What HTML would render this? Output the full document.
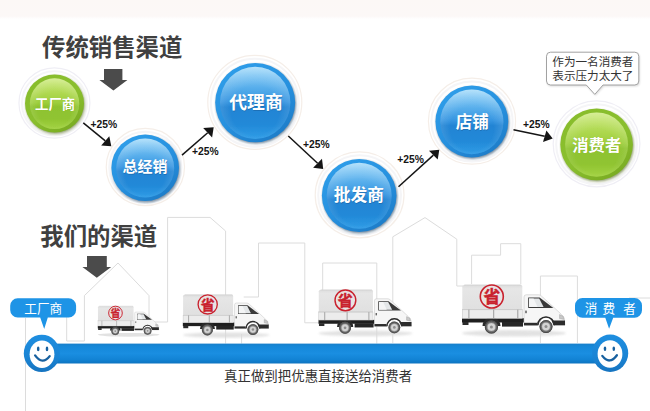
<!DOCTYPE html>
<html lang="zh-CN">
<head>
<meta charset="utf-8">
<title>传统销售渠道 / 我们的渠道</title>
<style>
html,body{margin:0;padding:0;background:#fff;}
body{width:650px;height:411px;overflow:hidden;position:relative;font-family:"Liberation Sans","Noto Sans CJK SC",sans-serif;}
svg{position:absolute;left:0;top:0;display:block;}
text{font-family:"Liberation Sans","Noto Sans CJK SC",sans-serif;}
.t{font-weight:bold;fill:#404040;font-size:23.4px;}
.cw{font-weight:bold;fill:#fff;text-anchor:middle;}
.pc{font-weight:bold;fill:#151515;font-size:10.3px;}
.bl{fill:none;stroke:#dcdcdc;stroke-width:1;}
</style>
</head>
<body>
<svg width="650" height="411" viewBox="0 0 650 411">
<defs>
  <linearGradient id="topband" x1="0" y1="0" x2="0" y2="1">
    <stop offset="0" stop-color="#fcf8f6"/><stop offset="0.85" stop-color="#fcf8f7"/><stop offset="1" stop-color="#ffffff"/>
  </linearGradient>
  <linearGradient id="gBlue" x1="0" y1="0" x2="0" y2="1">
    <stop offset="0" stop-color="#a4dbfa"/><stop offset="0.12" stop-color="#7fc6f4"/><stop offset="0.30" stop-color="#56adeb"/><stop offset="0.48" stop-color="#3695e1"/>
    <stop offset="0.56" stop-color="#2284d4"/><stop offset="0.80" stop-color="#2289d8"/><stop offset="1" stop-color="#2f9ce6"/>
  </linearGradient>
  <linearGradient id="gGreen" x1="0" y1="0" x2="0" y2="1">
    <stop offset="0" stop-color="#cdea7e"/><stop offset="0.12" stop-color="#bfe268"/><stop offset="0.30" stop-color="#aed84f"/><stop offset="0.48" stop-color="#9dce3c"/>
    <stop offset="0.56" stop-color="#8ec32f"/><stop offset="0.80" stop-color="#90c431"/><stop offset="1" stop-color="#a3d343"/>
  </linearGradient>
  <linearGradient id="rimBlue" x1="0.2" y1="0.05" x2="0.8" y2="0.95">
    <stop offset="0" stop-color="#2e9de9"/><stop offset="0.55" stop-color="#2690de"/><stop offset="1" stop-color="#1d7cc8"/>
  </linearGradient>
  <linearGradient id="rimGreen" x1="0.2" y1="0.05" x2="0.8" y2="0.95">
    <stop offset="0" stop-color="#88bd2c"/><stop offset="0.55" stop-color="#8abf2e"/><stop offset="1" stop-color="#79ab22"/>
  </linearGradient>
  <radialGradient id="edgeGlow" cx="0.5" cy="0.6" r="0.62">
    <stop offset="0" stop-color="#fff" stop-opacity="0"/><stop offset="0.55" stop-color="#fff" stop-opacity="0"/><stop offset="1" stop-color="#fff" stop-opacity="0.22"/>
  </radialGradient>
  <linearGradient id="gSm" x1="0" y1="0" x2="0" y2="1">
    <stop offset="0" stop-color="#1e8ee0"/><stop offset="0.6" stop-color="#1a84d4"/><stop offset="1" stop-color="#1674c0"/>
  </linearGradient>
  <filter id="soft" x="-10%" y="-10%" width="120%" height="120%">
    <feGaussianBlur stdDeviation="0.7"/>
  </filter>
  <linearGradient id="gBar" x1="0" y1="0" x2="0" y2="1">
    <stop offset="0" stop-color="#187fca"/><stop offset="0.15" stop-color="#1588d9"/><stop offset="0.5" stop-color="#1a8ee1"/><stop offset="0.8" stop-color="#1283d4"/><stop offset="1" stop-color="#0e74c0"/>
  </linearGradient>
  <linearGradient id="gCargo" x1="0" y1="0" x2="0" y2="1">
    <stop offset="0" stop-color="#dcdcdc"/><stop offset="0.15" stop-color="#e6e6e6"/><stop offset="1" stop-color="#e0e0e0"/>
  </linearGradient>
  <filter id="sh" x="-20%" y="-20%" width="140%" height="140%">
    <feGaussianBlur stdDeviation="1.2"/>
  </filter>
  

  <!-- truck symbol, native size 105 x 50 -->
  <symbol id="truck" viewBox="0 0 105 52" overflow="visible">
    <ellipse cx="53" cy="49.2" rx="52" ry="3.2" fill="#d9d9d9" opacity="0.75" filter="url(#sh)"/>
    <!-- chassis -->
    <rect x="1" y="34.2" width="62" height="4.3" fill="#1f1f1f"/>
    <rect x="1.5" y="38" width="6" height="3" fill="#2b2b2b"/>
    <rect x="41" y="38" width="21" height="4.6" fill="#262626"/>
    <path d="M21.5,42 A9,9 0 0 1 39.5,42 Z" fill="#2a2a2a"/>
    <!-- tarpaulin -->
    <path d="M1.3,25.6 V2.6 Q1.3,1 3.3,1 H60.2 Q61.3,1 61.3,2.6 V25.6 Z" fill="url(#gCargo)"/>
    <path d="M3.3,1 H60.2" stroke="#cfcfcf" stroke-width="0.8"/>
    <!-- bed sides -->
    <rect x="1.3" y="25.4" width="60" height="9" fill="#ececec" stroke="#c2c2c2" stroke-width="0.5"/>
    <path d="M1.3,25.6 H61.3" stroke="#c9c9c9" stroke-width="0.7"/>
    <path d="M7.9,25.6V34.4M32.7,25.6V34.4M56.8,25.6V34.4" stroke="#9c9c9c" stroke-width="1" fill="none"/>
    <!-- cab -->
    <path d="M63,41.2 V13 Q63,10.8 65.2,10.8 H77.6 Q79.3,10.8 80.6,12.2 L93.4,23.9 L100.4,30.4 Q103.2,32.6 103.5,35 L103.9,41.2 H93 A8.2,8.2 0 0 0 76.6,41.2 Z" fill="#f6f6f6" stroke="#c6c6c6" stroke-width="0.6"/>
    <path d="M63,38.8 H76.4 V41.4 H63 Z" fill="#2c2c2c"/>
    <path d="M76,41.2 A9,9 0 0 1 94,41.2 L92.4,41.2 A7.4,7.4 0 0 0 77.6,41.2 Z" fill="#2c2c2c"/>
    <!-- window -->
    <path d="M67.2,13.6 H78.6 L92.4,23.9 H67.2 Z" fill="#3a3a3a"/>
    <path d="M68,14.4 H78.2 L82.6,23.1 H68 Z" fill="#e3e6e8"/>
    <path d="M68,14.4 H72.6 L76.6,23.1 H68 Z" fill="#f4f5f6"/>
    <rect x="64.2" y="26.6" width="1.6" height="2.6" fill="#666"/>
    <!-- bumper & light -->
    <path d="M90.5,36.6 H104 V41.2 H92.8 Z" fill="#2c2c2c"/>
    <path d="M98.6,30.6 L102.2,32.4 L102.8,35.4 L98.6,34.6 Z" fill="#c9c9c9" stroke="#8d8d8d" stroke-width="0.4"/>
    <!-- wheels -->
    <circle cx="30.4" cy="43" r="6.6" fill="#6a6a6a"/>
    <circle cx="30.4" cy="43" r="6.1" fill="none" stroke="#4a4a4a" stroke-width="1"/>
    <circle cx="30.4" cy="43" r="4.1" fill="#d4d4d4" stroke="#9a9a9a" stroke-width="0.5"/>
    <circle cx="30.4" cy="43" r="1.5" fill="#8e8e8e"/>
    <circle cx="85" cy="42.6" r="6.5" fill="#6a6a6a"/>
    <circle cx="85" cy="42.6" r="6" fill="none" stroke="#4a4a4a" stroke-width="1"/>
    <circle cx="85" cy="42.6" r="4.1" fill="#d4d4d4" stroke="#9a9a9a" stroke-width="0.5"/>
    <circle cx="85" cy="42.6" r="1.5" fill="#8e8e8e"/>
    <!-- stamp -->
    <circle cx="30.8" cy="12.5" r="11.5" fill="#e9e3e3" stroke="#c9212d" stroke-width="1.6"/>
    <text x="30.8" y="18.7" text-anchor="middle" font-size="16.8" font-weight="bold" fill="#c9212d" stroke="#c9212d" stroke-width="0.45">省</text>
  </symbol>

  <!-- smiley -->
  <symbol id="smile" viewBox="-19 -19 38 38" overflow="visible">
    <ellipse cx="0" cy="0.2" rx="18" ry="18.7" fill="url(#gSm)"/>
    <ellipse cx="0.2" cy="1" rx="12.4" ry="13.7" fill="#fff"/>
    <ellipse cx="-3.6" cy="-4.3" rx="1.3" ry="2.3" fill="#17609f"/>
    <ellipse cx="5.2" cy="-4.3" rx="1.3" ry="2.3" fill="#17609f"/>
    <path d="M-6.7,2.2 Q0.7,12.4 7.9,2.9" fill="none" stroke="#17609f" stroke-width="2.3" stroke-linecap="round"/>
  </symbol>
</defs>

<!-- top band -->
<rect x="0" y="0" width="650" height="19" fill="url(#topband)"/>

<!-- buildings -->
<g class="bl">
  <path d="M25.5,318 V411"/>
  <path d="M66.7,317 V341 H84.4 V295.6 L118,263 L149,295.6 V322 H167.6"/>
  <path d="M167.6,322 V217.4 H210 L225.6,231 V343.5"/>
  <path d="M243.7,297 H258.5 V243 H304.8 V322.8 H319"/>
  <path d="M241.6,334 V343.5"/>
  <path d="M322.7,290 V263 H376.8 V343.5"/>
  <path d="M392.8,343 V236.8 L425,217.6 L456.8,239.2 V286 H463.7"/>
  <path d="M471.6,284 V255.2 H500.6 V243.7 H520.8 V284"/>
  <path d="M540.4,343 V276 H577.4 V343"/>
  <path d="M629,298 H650"/>
</g>

<!-- titles -->
<text class="t" x="42" y="56">传统销售渠道</text>
<text class="t" x="40.3" y="245.3">我们的渠道</text>

<!-- big down arrows -->
<path d="M104,69 H122.4 V80 H127.4 L113.4,90.5 L99.4,80 H104 Z" fill="#4b4b4b"/>
<path d="M87,256 H106.8 V267 H111.2 L96.8,277.8 L82.4,267 H87 Z" fill="#4b4b4b"/>

<!-- circles -->
<g>
  <!-- 工厂商 -->
  <ellipse cx="54.45" cy="103.0" rx="35.5" ry="35.2" fill="#fff" stroke="#efeef5" stroke-width="1.2"/>
  <ellipse cx="54.45" cy="103.40" rx="32.5" ry="32.2" fill="none" stroke="#f5f5f7" stroke-width="2"/>
  <ellipse cx="55.35" cy="104.70" rx="29.7" ry="29.2" fill="#465f10" opacity="0.55" filter="url(#sh)"/>
  <ellipse cx="54.55" cy="103.5" rx="29.5" ry="29" fill="url(#rimGreen)"/>
  <ellipse cx="54.55" cy="103.70" rx="24.7" ry="25.4" fill="url(#gGreen)" filter="url(#soft)"/>
  <ellipse cx="54.55" cy="103.70" rx="24.7" ry="25.4" fill="url(#edgeGlow)" filter="url(#soft)"/>
  <text class="cw" x="55.60" y="109.40" font-size="13.4" style="fill:#5f8a1a;opacity:.55">工厂商</text>
  <text class="cw" x="55.1" y="108.7" font-size="13.4">工厂商</text>
  <!-- 总经销 -->
  <ellipse cx="145.35" cy="167" rx="39.15" ry="38.6" fill="#fff" stroke="#f5eee8" stroke-width="1.2"/>
  <ellipse cx="145.35" cy="167.40" rx="36.15" ry="35.60" fill="none" stroke="#f5f5f7" stroke-width="2"/>
  <ellipse cx="146.00" cy="169.10" rx="34.00" ry="33.40" fill="#0f3558" opacity="0.55" filter="url(#sh)"/>
  <ellipse cx="145.2" cy="167.8" rx="33.8" ry="33.2" fill="url(#rimBlue)"/>
  <ellipse cx="145.2" cy="168.00" rx="29.00" ry="29.60" fill="url(#gBlue)" filter="url(#soft)"/>
  <ellipse cx="145.2" cy="168.00" rx="29.00" ry="29.60" fill="url(#edgeGlow)" filter="url(#soft)"/>
  <text class="cw" x="145.60" y="173.10" font-size="15" style="fill:#1a5f9e;opacity:.55">总经销</text>
  <text class="cw" x="145.1" y="172.4" font-size="15">总经销</text>
  <!-- 代理商 -->
  <ellipse cx="254.8" cy="102.3" rx="47" ry="47" fill="#fff" stroke="#f5eee8" stroke-width="1.2"/>
  <ellipse cx="254.8" cy="102.70" rx="44.00" ry="44.00" fill="none" stroke="#f5f5f7" stroke-width="2"/>
  <ellipse cx="256.00" cy="103.90" rx="40.20" ry="39.90" fill="#0f3558" opacity="0.55" filter="url(#sh)"/>
  <ellipse cx="255.2" cy="102.6" rx="40.0" ry="39.7" fill="url(#rimBlue)"/>
  <ellipse cx="255.2" cy="102.80" rx="35.20" ry="36.10" fill="url(#gBlue)" filter="url(#soft)"/>
  <ellipse cx="255.2" cy="102.80" rx="35.20" ry="36.10" fill="url(#edgeGlow)" filter="url(#soft)"/>
  <text class="cw" x="256.50" y="110.00" font-size="17.8" style="fill:#1a5f9e;opacity:.55">代理商</text>
  <text class="cw" x="256" y="109.3" font-size="17.8">代理商</text>
  <!-- 批发商 -->
  <ellipse cx="359.6" cy="194.9" rx="44.4" ry="43" fill="#fff" stroke="#f5eee8" stroke-width="1.2"/>
  <ellipse cx="359.6" cy="195.30" rx="41.40" ry="40.00" fill="none" stroke="#f5f5f7" stroke-width="2"/>
  <ellipse cx="360.00" cy="196.80" rx="37.50" ry="36.80" fill="#0f3558" opacity="0.55" filter="url(#sh)"/>
  <ellipse cx="359.2" cy="195.5" rx="37.3" ry="36.6" fill="url(#rimBlue)"/>
  <ellipse cx="359.2" cy="195.70" rx="32.50" ry="33.00" fill="url(#gBlue)" filter="url(#soft)"/>
  <ellipse cx="359.2" cy="195.70" rx="32.50" ry="33.00" fill="url(#edgeGlow)" filter="url(#soft)"/>
  <text class="cw" x="359.30" y="201.60" font-size="16.7" style="fill:#1a5f9e;opacity:.55">批发商</text>
  <text class="cw" x="358.8" y="200.9" font-size="16.7">批发商</text>
  <!-- 店铺 -->
  <ellipse cx="472" cy="121.2" rx="43.6" ry="43" fill="#fff" stroke="#f5eee8" stroke-width="1.2"/>
  <ellipse cx="472" cy="121.60" rx="40.60" ry="40.00" fill="none" stroke="#f5f5f7" stroke-width="2"/>
  <ellipse cx="472.65" cy="122.90" rx="36.60" ry="36.20" fill="#0f3558" opacity="0.55" filter="url(#sh)"/>
  <ellipse cx="471.85" cy="121.6" rx="36.4" ry="36.0" fill="url(#rimBlue)"/>
  <ellipse cx="471.85" cy="121.80" rx="31.60" ry="32.40" fill="url(#gBlue)" filter="url(#soft)"/>
  <ellipse cx="471.85" cy="121.80" rx="31.60" ry="32.40" fill="url(#edgeGlow)" filter="url(#soft)"/>
  <text class="cw" x="472.80" y="128.60" font-size="16.5" style="fill:#1a5f9e;opacity:.55">店铺</text>
  <text class="cw" x="472.3" y="127.9" font-size="16.5">店铺</text>
  <!-- 消费者 -->
  <ellipse cx="596.55" cy="143.8" rx="43.4" ry="43" fill="#fff" stroke="#efeef5" stroke-width="1.2"/>
  <ellipse cx="596.55" cy="144.20" rx="40.40" ry="40.00" fill="none" stroke="#f5f5f7" stroke-width="2"/>
  <ellipse cx="597.40" cy="145.70" rx="36.50" ry="36.00" fill="#465f10" opacity="0.55" filter="url(#sh)"/>
  <ellipse cx="596.6" cy="144.4" rx="36.3" ry="35.8" fill="url(#rimGreen)"/>
  <ellipse cx="596.6" cy="144.60" rx="31.50" ry="32.20" fill="url(#gGreen)" filter="url(#soft)"/>
  <ellipse cx="596.6" cy="144.60" rx="31.50" ry="32.20" fill="url(#edgeGlow)" filter="url(#soft)"/>
  <text class="cw" x="597.25" y="151.30" font-size="16.4" style="fill:#5f8a1a;opacity:.55">消费者</text>
  <text class="cw" x="596.75" y="150.6" font-size="16.4">消费者</text>
</g>

<!-- connecting arrows -->
<g stroke="#151515" stroke-width="1.5" fill="none">
  <path d="M83.3,122.8 L105.3,140.9"/>
  <path d="M182,155.1 L207.7,132.8"/>
  <path d="M288.3,136 L317.6,163.3"/>
  <path d="M398.5,186.8 L433.4,155.1"/>
  <path d="M513.5,129.7 L544.7,136.3"/>
</g>
<g fill="#151515">
  <path d="M111.3,146.3 L101.2,145.5 L109.3,136.2 Z"/>
  <path d="M213.7,127.2 L203.2,128.1 L212.1,137.5 Z"/>
  <path d="M323.2,169 L313.1,167.8 L322,158.8 Z"/>
  <path d="M439.3,149.7 L429,150.7 L437.7,159.5 Z"/>
  <path d="M552.7,138.5 L546.4,130.5 L543,142.1 Z"/>
</g>
<text class="pc" x="90.6" y="128">+25%</text>
<text class="pc" x="192" y="154.5">+25%</text>
<text class="pc" x="303.1" y="147.5">+25%</text>
<text class="pc" x="397.3" y="162.5">+25%</text>
<text class="pc" x="523" y="127.5">+25%</text>

<!-- speech bubble -->
<path d="M550.5,52.2 H634.8 Q638.8,52.2 638.8,56.2 V81 Q638.8,85 634.8,85 H603 L594.8,94.4 L586.3,85 H550.5 Q546.5,85 546.5,81 V56.2 Q546.5,52.2 550.5,52.2 Z" fill="#000" opacity="0.16" transform="translate(0.8,1.2)" filter="url(#sh)"/>
<path d="M550.5,52.2 H634.8 Q638.8,52.2 638.8,56.2 V81 Q638.8,85 634.8,85 H603 L594.8,94.4 L586.3,85 H550.5 Q546.5,85 546.5,81 V56.2 Q546.5,52.2 550.5,52.2 Z" fill="#fff" stroke="#a2a2a2" stroke-width="1"/>
<text x="552.3" y="66.3" font-size="11.6" fill="#333">作为一名消费者</text>
<text x="552.3" y="80" font-size="11.6" fill="#333">表示压力太大了</text>

<!-- trucks -->
<use href="#truck" x="97.2" y="305.6" width="62.3" height="30.85"/>
<use href="#truck" x="182" y="294" width="87.6" height="43.4"/>
<use href="#truck" x="317.6" y="289" width="94.8" height="46.95"/>
<use href="#truck" x="461" y="284" width="105" height="52"/>

<!-- bar -->
<rect x="42" y="343.6" width="568" height="19.9" fill="url(#gBar)"/>
<use href="#smile" x="22.8" y="334.2" width="38" height="38"/>
<use href="#smile" transform="translate(610.2,353) scale(-1,1)" x="-19" y="-19" width="38" height="38"/>

<!-- blue bubbles -->
<path d="M17.7,298.3 H68.6 A7.5,7.5 0 0 1 76.1,305.8 V310 A7.5,7.5 0 0 1 68.6,317.5 H47.8 L44.2,329 L40.2,317.5 H17.7 A7.5,7.5 0 0 1 10.2,310 V305.8 A7.5,7.5 0 0 1 17.7,298.3 Z" fill="#1e94e6"/>
<text x="43.2" y="313" font-size="12.6" fill="#fff" text-anchor="middle">工厂商</text>
<path d="M582.5,298 H634.5 A7.5,7.5 0 0 1 642,305.5 V310.2 A7.5,7.5 0 0 1 634.5,317.7 H613.2 L609.1,328.8 L605.3,317.7 H582.5 A7.5,7.5 0 0 1 575,310.2 V305.5 A7.5,7.5 0 0 1 582.5,298 Z" fill="#1e94e6"/>
<text x="584.8 602.4 623.2" y="313" font-size="12.6" fill="#fff">消费者</text>

<!-- bottom caption -->
<text x="224" y="381.3" font-size="13.45" fill="#333">真正做到把优惠直接送给消费者</text>
</svg>
</body>
</html>
